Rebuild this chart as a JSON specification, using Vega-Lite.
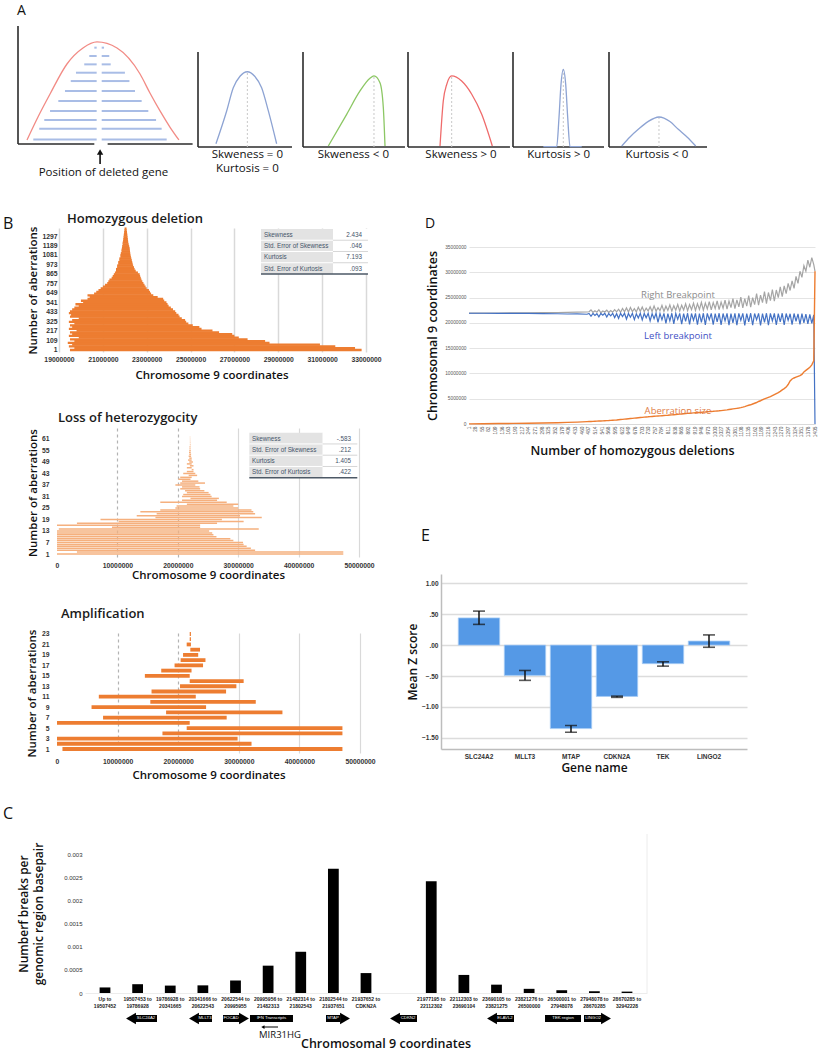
{
"$schema":"https://vega.github.io/schema/vega-lite/v6.json",
"background":"white",
"padding":{"left":3,"top":3,"right":0,"bottom":0},
"bounds":"flush",
"spacing":0,
"config":{"view":{"stroke":null},"font":"Open Sans","text":{"font":"Open Sans"},
"axis":{"ticks":false,"domain":false,"grid":false,"labelOverlap":false,"labelFont":"Liberation Sans","titleFont":"Open Sans","titleFontWeight":600,"titleColor":"#111111","labelColor":"#333333"}},
"vconcat":[
{"hconcat":[
{"width":180,"height":121,
"encoding":{"x":{"field":"x","type":"quantitative","scale":{"domain":[0,100]},"axis":null},"y":{"field":"y","type":"quantitative","scale":{"domain":[0,100]},"axis":null}},
"layer":[
{"data":{"values":[{"x":0,"x2":0,"y":2.5,"y2":100},{"x":0,"x2":42.4,"y":2.5,"y2":2.5},{"x":49.8,"x2":97,"y":2.5,"y2":2.5}]},"mark":{"type":"rule","color":"#2b2b2b","strokeWidth":1.6},"encoding":{"x2":{"field":"x2"},"y2":{"field":"y2"}}},
{"data":{"values":[{"x":42.4,"x2":43.7,"y":82.1},{"x":46.5,"x2":47.8,"y":82.1},{"x":39.6,"x2":43.7,"y":75.2},{"x":46.5,"x2":50.7,"y":75.2},{"x":36.8,"x2":43.7,"y":68.3},{"x":46.5,"x2":51.5,"y":68.3},{"x":32.2,"x2":43.7,"y":61.4},{"x":46.5,"x2":59.4,"y":61.4},{"x":29.3,"x2":43.7,"y":54.5},{"x":46.5,"x2":61.9,"y":54.5},{"x":26.1,"x2":43.7,"y":46.3},{"x":46.5,"x2":65.0,"y":46.3},{"x":22.4,"x2":43.7,"y":38.0},{"x":46.5,"x2":68.7,"y":38.0},{"x":17.8,"x2":43.7,"y":29.8},{"x":46.5,"x2":72.4,"y":29.8},{"x":14.6,"x2":43.7,"y":22.3},{"x":46.5,"x2":76.7,"y":22.3},{"x":11.8,"x2":43.7,"y":15.1},{"x":46.5,"x2":79.8,"y":15.1},{"x":8.5,"x2":43.7,"y":6.3},{"x":46.5,"x2":82.6,"y":6.3}]},"mark":{"type":"rule","color":"#a9bde6","strokeWidth":2},"encoding":{"x2":{"field":"x2"}}},
{"data":{"values":[{"x":5.0,"y":5.8},{"x":11.1,"y":24.8},{"x":17.8,"y":43.8},{"x":27.2,"y":68.6},{"x":36.1,"y":81.8},{"x":43.9,"y":86.8},{"x":55.0,"y":81.8},{"x":67.8,"y":60.3},{"x":73.3,"y":44.6},{"x":78.9,"y":29.8},{"x":84.4,"y":16.5},{"x":89.4,"y":5.8}]},"mark":{"type":"line","interpolate":"monotone","color":"#f28b85","strokeWidth":1.3},"encoding":{}},
{"data":{"values":[{"x":45.6,"y":-5,"y2":-14}]},"mark":{"type":"rule","color":"#111111","strokeWidth":1.6},"encoding":{"y2":{"field":"y2"}}},
{"data":{"values":[{"x":45.6,"y":-4.1}]},"mark":{"type":"point","shape":"triangle-up","filled":true,"color":"#111111","size":40,"opacity":1},"encoding":{}},
{"data":{"values":[{"x":47.5,"y":-21.2,"t":"Position of deleted gene"}]},"mark":{"type":"text","fontSize":11.5,"baseline":"middle","color":"#111111"},"encoding":{"text":{"field":"t"}}},
{"data":{"values":[{"x":-0.56,"y":118.2,"t":"A"}]},"mark":{"type":"text","fontSize":14,"baseline":"top","align":"left","color":"#111111"},"encoding":{"text":{"field":"t"}}}
]},
{"width":105,"height":121,
"encoding":{"x":{"field":"x","type":"quantitative","scale":{"domain":[0,100]},"axis":null},"y":{"field":"y","type":"quantitative","scale":{"domain":[0,100]},"axis":null}},
"layer":[
{"data":{"values":[{"x":0,"x2":0,"y":0,"y2":78.5},{"x":0,"x2":89.5,"y":0,"y2":0}]},"mark":{"type":"rule","color":"#2b2b2b","strokeWidth":1.6},"encoding":{"x2":{"field":"x2"},"y2":{"field":"y2"}}},
{"data":{"values":[{"x":47,"y":0,"y2":62.2}]},"mark":{"type":"rule","color":"#c8c8c8","strokeDash":[2,2],"strokeWidth":1},"encoding":{"y2":{"field":"y2"}}},
{"data":{"values":[{"x":17.1,"y":2.7},{"x":27.3,"y":29.8},{"x":33.6,"y":49},{"x":40,"y":58.5},{"x":47,"y":62.2},{"x":54,"y":58.5},{"x":60.6,"y":49},{"x":67,"y":29.8},{"x":74.9,"y":2.7}]},"mark":{"type":"line","interpolate":"monotone","color":"#8da3d3","strokeWidth":1.3},"encoding":{}},
{"data":{"values":[{"x":47,"y":-6.6,"t":"Skweness = 0"},{"x":47,"y":-18.2,"t":"Kurtosis = 0"}]},"mark":{"type":"text","fontSize":11.5,"baseline":"middle","color":"#111111"},"encoding":{"text":{"field":"t"}}}
]},
{"width":105,"height":121,
"encoding":{"x":{"field":"x","type":"quantitative","scale":{"domain":[0,100]},"axis":null},"y":{"field":"y","type":"quantitative","scale":{"domain":[0,100]},"axis":null}},
"layer":[
{"data":{"values":[{"x":0,"x2":0,"y":0,"y2":78.5},{"x":0,"x2":97.1,"y":0,"y2":0}]},"mark":{"type":"rule","color":"#2b2b2b","strokeWidth":1.6},"encoding":{"x2":{"field":"x2"},"y2":{"field":"y2"}}},
{"data":{"values":[{"x":67.6,"y":0,"y2":58.7}]},"mark":{"type":"rule","color":"#c8c8c8","strokeDash":[2,2],"strokeWidth":1},"encoding":{"y2":{"field":"y2"}}},
{"data":{"values":[{"x":24.1,"y":0.8},{"x":41.6,"y":27},{"x":54.3,"y":46.3},{"x":63.8,"y":56.8},{"x":67.6,"y":58.7},{"x":73.3,"y":53.1},{"x":76.5,"y":32.5},{"x":78.1,"y":0.8}]},"mark":{"type":"line","interpolate":"monotone","color":"#8cc764","strokeWidth":1.3},"encoding":{}},
{"data":{"values":[{"x":47.9,"y":-6.6,"t":"Skweness < 0"}]},"mark":{"type":"text","fontSize":11.5,"baseline":"middle","color":"#111111"},"encoding":{"text":{"field":"t"}}}
]},
{"width":105,"height":121,
"encoding":{"x":{"field":"x","type":"quantitative","scale":{"domain":[0,100]},"axis":null},"y":{"field":"y","type":"quantitative","scale":{"domain":[0,100]},"axis":null}},
"layer":[
{"data":{"values":[{"x":0,"x2":0,"y":0,"y2":78.5},{"x":0,"x2":97.1,"y":0,"y2":0}]},"mark":{"type":"rule","color":"#2b2b2b","strokeWidth":1.6},"encoding":{"x2":{"field":"x2"},"y2":{"field":"y2"}}},
{"data":{"values":[{"x":41.6,"y":0,"y2":58.7}]},"mark":{"type":"rule","color":"#c8c8c8","strokeDash":[2,2],"strokeWidth":1},"encoding":{"y2":{"field":"y2"}}},
{"data":{"values":[{"x":30.5,"y":0.8},{"x":33.6,"y":38},{"x":36.9,"y":51.8},{"x":41.6,"y":58.7},{"x":51.1,"y":54.5},{"x":60.7,"y":43.6},{"x":70.2,"y":27},{"x":80.3,"y":0.8}]},"mark":{"type":"line","interpolate":"monotone","color":"#ef6b6b","strokeWidth":1.3},"encoding":{}},
{"data":{"values":[{"x":50.5,"y":-6.6,"t":"Skweness > 0"}]},"mark":{"type":"text","fontSize":11.5,"baseline":"middle","color":"#111111"},"encoding":{"text":{"field":"t"}}}
]},
{"width":96,"height":121,
"encoding":{"x":{"field":"x","type":"quantitative","scale":{"domain":[0,100]},"axis":null},"y":{"field":"y","type":"quantitative","scale":{"domain":[0,100]},"axis":null}},
"layer":[
{"data":{"values":[{"x":0,"x2":0,"y":0,"y2":78.5},{"x":0,"x2":94.8,"y":0,"y2":0}]},"mark":{"type":"rule","color":"#2b2b2b","strokeWidth":1.6},"encoding":{"x2":{"field":"x2"},"y2":{"field":"y2"}}},
{"data":{"values":[{"x":52.4,"y":0,"y2":64.2}]},"mark":{"type":"rule","color":"#c8c8c8","strokeDash":[2,2],"strokeWidth":1},"encoding":{"y2":{"field":"y2"}}},
{"data":{"values":[{"x":31.6,"y":0.25},{"x":45.5,"y":0.25},{"x":47.9,"y":24.2},{"x":50,"y":51.8},{"x":52.4,"y":64.2},{"x":54.9,"y":51.8},{"x":57,"y":24.2},{"x":59.4,"y":0.25},{"x":71.6,"y":0.25}]},"mark":{"type":"line","interpolate":"monotone","color":"#8da3d3","strokeWidth":1.3},"encoding":{}},
{"data":{"values":[{"x":47.6,"y":-6.6,"t":"Kurtosis > 0"}]},"mark":{"type":"text","fontSize":11.5,"baseline":"middle","color":"#111111"},"encoding":{"text":{"field":"t"}}}
]},
{"width":98,"height":121,
"encoding":{"x":{"field":"x","type":"quantitative","scale":{"domain":[0,100]},"axis":null},"y":{"field":"y","type":"quantitative","scale":{"domain":[0,100]},"axis":null}},
"layer":[
{"data":{"values":[{"x":0,"x2":0,"y":0,"y2":78.5},{"x":0,"x2":100,"y":0,"y2":0}]},"mark":{"type":"rule","color":"#2b2b2b","strokeWidth":1.6},"encoding":{"x2":{"field":"x2"},"y2":{"field":"y2"}}},
{"data":{"values":[{"x":51,"y":0,"y2":24.8}]},"mark":{"type":"rule","color":"#c8c8c8","strokeDash":[2,2],"strokeWidth":1},"encoding":{"y2":{"field":"y2"}}},
{"data":{"values":[{"x":13,"y":0.8},{"x":21.4,"y":8.3},{"x":29.9,"y":14.6},{"x":39.8,"y":21},{"x":51,"y":24.8},{"x":62.2,"y":21},{"x":70.7,"y":14.6},{"x":79.6,"y":8.3},{"x":88.5,"y":0.8}]},"mark":{"type":"line","interpolate":"monotone","color":"#8da3d3","strokeWidth":1.3},"encoding":{}},
{"data":{"values":[{"x":49,"y":-6.6,"t":"Kurtosis < 0"}]},"mark":{"type":"text","fontSize":11.5,"baseline":"middle","color":"#111111"},"encoding":{"text":{"field":"t"}}}
]}
],"spacing":0,"bounds":"flush"},
{"width":1,"height":202,"data":{"values":[{}]},"mark":{"type":"text","text":""},"encoding":{}},
{"hconcat":[
{"width":39,"height":1,"data":{"values":[{}]},"mark":{"type":"text","text":""},"encoding":{}},
{"vconcat":[
{"width":309,"height":124,
"layer":[
{"data":{"values":[{"n":1,"start":19500000,"end":32800000},{"n":21,"start":19700000,"end":32500000},{"n":41,"start":19450000,"end":31600000},{"n":61,"start":19600000,"end":30900000},{"n":81,"start":19400000,"end":28600000},{"n":101,"start":19700000,"end":28400000},{"n":121,"start":19500000,"end":27600000},{"n":141,"start":19900000,"end":27200000},{"n":161,"start":19450000,"end":27000000},{"n":181,"start":19600000,"end":26900000},{"n":201,"start":19500000,"end":26300000},{"n":221,"start":19800000,"end":26000000},{"n":241,"start":19450000,"end":25500000},{"n":261,"start":19600000,"end":25400000},{"n":281,"start":19500000,"end":25100000},{"n":301,"start":19700000,"end":24900000},{"n":321,"start":19450000,"end":24800000},{"n":341,"start":19600000,"end":24750000},{"n":361,"start":19900000,"end":24600000},{"n":381,"start":19500000,"end":24500000},{"n":401,"start":19550000,"end":24450000},{"n":421,"start":19450000,"end":24350000},{"n":441,"start":19500000,"end":24300000},{"n":461,"start":19600000,"end":24200000},{"n":481,"start":19700000,"end":24100000},{"n":501,"start":19900000,"end":24000000},{"n":521,"start":19750000,"end":23950000},{"n":541,"start":20100000,"end":23900000},{"n":561,"start":20000000,"end":23800000},{"n":581,"start":20300000,"end":23750000},{"n":601,"start":20400000,"end":23500000},{"n":621,"start":20300000,"end":23300000},{"n":641,"start":20600000,"end":23200000},{"n":661,"start":20700000,"end":23150000},{"n":681,"start":20800000,"end":23100000},{"n":701,"start":20900000,"end":23000000},{"n":721,"start":21000000,"end":22950000},{"n":741,"start":21100000,"end":22900000},{"n":761,"start":21200000,"end":22850000},{"n":781,"start":21250000,"end":22800000},{"n":801,"start":21300000,"end":22760000},{"n":821,"start":21400000,"end":22730000},{"n":841,"start":21450000,"end":22700000},{"n":861,"start":21500000,"end":22680000},{"n":881,"start":21550000,"end":22600000},{"n":901,"start":21600000,"end":22500000},{"n":921,"start":21600000,"end":22450000},{"n":941,"start":21650000,"end":22420000},{"n":961,"start":21650000,"end":22380000},{"n":981,"start":21700000,"end":22360000},{"n":1001,"start":21700000,"end":22340000},{"n":1021,"start":21750000,"end":22320000},{"n":1041,"start":21750000,"end":22300000},{"n":1061,"start":21800000,"end":22280000},{"n":1081,"start":21800000,"end":22260000},{"n":1101,"start":21820000,"end":22250000},{"n":1121,"start":21850000,"end":22240000},{"n":1141,"start":21850000,"end":22230000},{"n":1161,"start":21870000,"end":22220000},{"n":1181,"start":21880000,"end":22200000},{"n":1201,"start":21900000,"end":22180000},{"n":1221,"start":21900000,"end":22160000},{"n":1241,"start":21920000,"end":22150000},{"n":1261,"start":21930000,"end":22140000},{"n":1281,"start":21940000,"end":22130000},{"n":1301,"start":21950000,"end":22120000},{"n":1321,"start":21960000,"end":22110000},{"n":1341,"start":21970000,"end":22100000},{"n":1361,"start":21980000,"end":22090000},{"n":1381,"start":21990000,"end":22080000}]},"mark":{"type":"rule","color":"#ED7D31","strokeWidth":2.3},
"encoding":{
"y":{"field":"n","type":"quantitative","scale":{"domain":[-22,1388]},"axis":{"values":[1,109,217,325,433,541,649,757,865,973,1081,1189,1297],"tickCount":100,"format":"d","labelOverlap":false,"labelFontSize":6.8,"labelFontWeight":"bold","labelPadding":0,"title":"Number of aberrations","titleFontSize":11.5,"titlePadding":3}},
"x":{"field":"start","type":"quantitative","scale":{"domain":[18909000,33000000]},"axis":{"values":[19000000,21000000,23000000,25000000,27000000,29000000,31000000,33000000],"tickCount":100,"labelFlush":false,"format":"d","labelOverlap":false,"labelFontSize":6.8,"labelFontWeight":"bold","labelPadding":4,"grid":true,"gridColor":"#d9d9d9","gridWidth":1.5,"title":"Chromosome 9 coordinates","titleFontSize":11.5,"titlePadding":7}},
"x2":{"field":"end"}}},
{"data":{"values":[{}]},"mark":{"type":"rect","color":"#e3e3e3"},"encoding":{"x":{"datum":28211000,"scale":{"domain":[18909000,33000000]}},"x2":{"datum":31495000},"y":{"datum":865,"scale":{"domain":[-22,1388]}},"y2":{"datum":1377}}},
{"data":{"values":[{}]},"mark":{"type":"rect","color":"#ffffff"},"encoding":{"x":{"datum":31495000,"scale":{"domain":[18909000,33000000]}},"x2":{"datum":33090000},"y":{"datum":865,"scale":{"domain":[-22,1388]}},"y2":{"datum":1377}}},
{"data":{"values":[{"n":1249},{"n":1121},{"n":993}]},"mark":{"type":"rule","color":"#ffffff","strokeWidth":1},"encoding":{"y":{"field":"n","type":"quantitative","scale":{"domain":[-22,1388]}},"x":{"datum":28211000,"scale":{"domain":[18909000,33000000]}},"x2":{"datum":31495000}}},
{"data":{"values":[{"n":1249},{"n":1121},{"n":993}]},"mark":{"type":"rule","color":"#d6d6d6","strokeWidth":1},"encoding":{"y":{"field":"n","type":"quantitative","scale":{"domain":[-22,1388]}},"x":{"datum":31495000,"scale":{"domain":[18909000,33000000]}},"x2":{"datum":33090000}}},
{"data":{"values":[{}]},"mark":{"type":"rule","color":"#4d5966","strokeWidth":1.5},"encoding":{"x":{"datum":28211000,"scale":{"domain":[18909000,33000000]}},"x2":{"datum":33090000},"y":{"datum":865,"scale":{"domain":[-22,1388]}}}},
{"data":{"values":[{}]},"mark":{"type":"text","align":"left","baseline":"top","fontSize":6.3,"lineHeight":11.25,"font":"Liberation Sans","color":"#44546a"},"encoding":{"x":{"datum":28348000,"scale":{"domain":[18909000,33000000]}},"y":{"datum":1344,"scale":{"domain":[-22,1388]}},"text":{"value":["Skewness","Std. Error of Skewness","Kurtosis","Std. Error of Kurtosis"]}}},
{"data":{"values":[{}]},"mark":{"type":"text","align":"right","baseline":"top","fontSize":6.3,"lineHeight":11.25,"font":"Liberation Sans","color":"#44546a"},"encoding":{"x":{"datum":32817000,"scale":{"domain":[18909000,33000000]}},"y":{"datum":1344,"scale":{"domain":[-22,1388]}},"text":{"value":["2.434",".046","7.193",".093"]}}},
{"data":{"values":[{}]},"mark":{"type":"text","align":"left","baseline":"alphabetic","fontSize":13,"fontWeight":600,"color":"#1a1a1a"},"encoding":{"x":{"datum":19365000,"scale":{"domain":[18909000,33000000]}},"y":{"datum":1450,"scale":{"domain":[-22,1388]}},"text":{"value":"Homozygous deletion"}}},
{"data":{"values":[{}]},"mark":{"type":"text","align":"left","baseline":"alphabetic","fontSize":16,"color":"#111111"},"encoding":{"x":{"datum":16447000,"scale":{"domain":[18909000,33000000]}},"y":{"datum":1377,"scale":{"domain":[-22,1388]}},"text":{"value":"B"}}}
]},
{"width":302,"height":129,
"layer":[
{"data":{"values":[{"n":1,"start":0,"end":47400000},{"n":2,"start":3300000,"end":47400000},{"n":3,"start":0,"end":32800000},{"n":4,"start":0,"end":32100000},{"n":5,"start":0,"end":31400000},{"n":6,"start":0,"end":30900000},{"n":7,"start":0,"end":30800000},{"n":8,"start":0,"end":29200000},{"n":9,"start":0,"end":28700000},{"n":10,"start":0,"end":26400000},{"n":11,"start":0,"end":25900000},{"n":12,"start":0,"end":25700000},{"n":13,"start":0,"end":25200000},{"n":14,"start":300000,"end":33400000},{"n":15,"start":9100000,"end":23700000},{"n":16,"start":0,"end":23700000},{"n":17,"start":3300000,"end":26500000},{"n":18,"start":10200000,"end":30900000},{"n":19,"start":7200000,"end":27300000},{"n":20,"start":16300000,"end":33900000},{"n":21,"start":13200000,"end":30300000},{"n":22,"start":16500000,"end":32800000},{"n":23,"start":13800000,"end":32500000},{"n":24,"start":17100000,"end":32200000},{"n":25,"start":19600000,"end":30000000},{"n":26,"start":19800000,"end":29200000},{"n":27,"start":21500000,"end":30000000},{"n":28,"start":17100000,"end":28100000},{"n":29,"start":20700000,"end":26500000},{"n":30,"start":22100000,"end":26800000},{"n":31,"start":20700000,"end":25600000},{"n":32,"start":20900000,"end":25400000},{"n":33,"start":21500000,"end":25100000},{"n":34,"start":21200000,"end":24400000},{"n":35,"start":20400000,"end":23700000},{"n":36,"start":20700000,"end":23600000},{"n":37,"start":19600000,"end":22900000},{"n":38,"start":20400000,"end":24500000},{"n":39,"start":20700000,"end":23400000},{"n":40,"start":20100000,"end":22100000},{"n":41,"start":20400000,"end":22300000},{"n":42,"start":21800000,"end":23200000},{"n":43,"start":20900000,"end":22900000},{"n":44,"start":21500000,"end":22600000},{"n":45,"start":22300000,"end":22600000},{"n":46,"start":21500000,"end":22300000},{"n":47,"start":22000000,"end":22600000},{"n":48,"start":21500000,"end":22300000},{"n":49,"start":21900000,"end":22500000},{"n":50,"start":21700000,"end":22300000},{"n":51,"start":21900000,"end":22300000},{"n":52,"start":21800000,"end":22200000},{"n":53,"start":21900000,"end":22200000},{"n":54,"start":21850000,"end":22150000},{"n":55,"start":21900000,"end":22150000},{"n":56,"start":21950000,"end":22100000},{"n":57,"start":21950000,"end":22100000},{"n":58,"start":22000000,"end":22100000},{"n":59,"start":22000000,"end":22080000},{"n":60,"start":22000000,"end":22070000},{"n":61,"start":22000000,"end":22060000},{"n":62,"start":22000000,"end":22050000}]},"mark":{"type":"rule","color":"#F5B07E","strokeWidth":1.5},
"encoding":{
"y":{"field":"n","type":"quantitative","scale":{"domain":[-0.565,66.73]},"axis":{"values":[1,7,13,19,25,31,37,43,49,55,61],"tickCount":100,"format":"d","labelOverlap":false,"labelFontSize":6.8,"labelFontWeight":"bold","labelPadding":8,"title":"Number of aberrations","titleFontSize":11.5,"titlePadding":3}},
"x":{"field":"start","type":"quantitative","scale":{"domain":[0,50000000]},"axis":{"values":[0,10000000,20000000,30000000,40000000,50000000],"tickCount":100,"labelFlush":false,"format":"d","labelOverlap":false,"labelFontSize":6.8,"labelFontWeight":"bold","labelPadding":5,"grid":true,"gridColor":{"condition":{"test":"datum.value <= 20000000","value":"#b3b3b3"},"value":"#d9d9d9"},"gridDash":{"condition":{"test":"datum.value <= 20000000","value":[3,3]},"value":[]},"gridOpacity":{"condition":{"test":"datum.value == 0","value":0},"value":1},"gridWidth":1.2,"title":"Chromosome 9 coordinates","titleFontSize":11.5,"titlePadding":1}},
"x2":{"field":"end"}}},
{"data":{"values":[{}]},"mark":{"type":"rect","color":"#e3e3e3"},"encoding":{"x":{"datum":31840000,"scale":{"domain":[0,50000000]}},"x2":{"datum":43990000},"y":{"datum":40.8,"scale":{"domain":[-0.565,66.73]}},"y2":{"datum":64.28}}},
{"data":{"values":[{}]},"mark":{"type":"rect","color":"#ffffff"},"encoding":{"x":{"datum":43990000,"scale":{"domain":[0,50000000]}},"x2":{"datum":49720000},"y":{"datum":40.8,"scale":{"domain":[-0.565,66.73]}},"y2":{"datum":64.28}}},
{"data":{"values":[{"n":58.41},{"n":52.54},{"n":46.67}]},"mark":{"type":"rule","color":"#ffffff","strokeWidth":1},"encoding":{"y":{"field":"n","type":"quantitative","scale":{"domain":[-0.565,66.73]}},"x":{"datum":31840000,"scale":{"domain":[0,50000000]}},"x2":{"datum":43990000}}},
{"data":{"values":[{"n":58.41},{"n":52.54},{"n":46.67}]},"mark":{"type":"rule","color":"#d6d6d6","strokeWidth":1},"encoding":{"y":{"field":"n","type":"quantitative","scale":{"domain":[-0.565,66.73]}},"x":{"datum":43990000,"scale":{"domain":[0,50000000]}},"x2":{"datum":49720000}}},
{"data":{"values":[{}]},"mark":{"type":"rule","color":"#4d5966","strokeWidth":1.5},"encoding":{"x":{"datum":31840000,"scale":{"domain":[0,50000000]}},"x2":{"datum":49720000},"y":{"datum":40.8,"scale":{"domain":[-0.565,66.73]}}}},
{"data":{"values":[{}]},"mark":{"type":"text","align":"left","baseline":"top","fontSize":6.3,"lineHeight":11.25,"font":"Liberation Sans","color":"#44546a"},"encoding":{"x":{"datum":32280000,"scale":{"domain":[0,50000000]}},"y":{"datum":62.77,"scale":{"domain":[-0.565,66.73]}},"text":{"value":["Skewness","Std. Error of Skewness","Kurtosis","Std. Error of Kurtosis"]}}},
{"data":{"values":[{}]},"mark":{"type":"text","align":"right","baseline":"top","fontSize":6.3,"lineHeight":11.25,"font":"Liberation Sans","color":"#44546a"},"encoding":{"x":{"datum":48680000,"scale":{"domain":[0,50000000]}},"y":{"datum":62.77,"scale":{"domain":[-0.565,66.73]}},"text":{"value":["-.583",".212","1.405",".422"]}}},
{"data":{"values":[{}]},"mark":{"type":"text","align":"left","baseline":"alphabetic","fontSize":13,"fontWeight":600,"color":"#1a1a1a"},"encoding":{"x":{"datum":166000,"scale":{"domain":[0,50000000]}},"y":{"datum":70.0,"scale":{"domain":[-0.565,66.73]}},"text":{"value":"Loss of heterozygocity"}}}
]},
{"width":303,"height":120,
"layer":[
{"data":{"values":[{"n":1,"start":900000,"end":47100000},{"n":2,"start":0,"end":32100000},{"n":3,"start":0,"end":29800000},{"n":4,"start":17400000,"end":47100000},{"n":5,"start":21400000,"end":47100000},{"n":6,"start":0,"end":21900000},{"n":7,"start":7600000,"end":28000000},{"n":8,"start":18000000,"end":37200000},{"n":9,"start":5700000,"end":24600000},{"n":10,"start":15400000,"end":32800000},{"n":11,"start":6900000,"end":22900000},{"n":12,"start":15600000,"end":27900000},{"n":13,"start":20300000,"end":29600000},{"n":14,"start":21900000,"end":30800000},{"n":15,"start":14500000,"end":21900000},{"n":16,"start":17200000,"end":22200000},{"n":17,"start":19400000,"end":24100000},{"n":18,"start":20400000,"end":24500000},{"n":19,"start":20800000,"end":23300000},{"n":20,"start":22000000,"end":23600000},{"n":21,"start":21400000,"end":22100000},{"n":22,"start":21900000,"end":22100000},{"n":23,"start":21900000,"end":22100000}]},"mark":{"type":"rule","color":"#ED7D31","strokeWidth":3.8},
"encoding":{
"y":{"field":"n","type":"quantitative","scale":{"domain":[0.235,23.19]},"axis":{"values":[1,3,5,7,9,11,13,15,17,19,21,23],"tickCount":100,"format":"d","labelOverlap":false,"labelFontSize":6.8,"labelFontWeight":"bold","labelPadding":8,"title":"Number of aberrations","titleFontSize":11.5,"titlePadding":4}},
"x":{"field":"start","type":"quantitative","scale":{"domain":[0,50000000]},"axis":{"values":[0,10000000,20000000,30000000,40000000,50000000],"tickCount":100,"labelFlush":false,"format":"d","labelOverlap":false,"labelFontSize":6.8,"labelFontWeight":"bold","labelPadding":5,"grid":true,"gridColor":{"condition":{"test":"datum.value <= 20000000","value":"#b3b3b3"},"value":"#d9d9d9"},"gridDash":{"condition":{"test":"datum.value <= 20000000","value":[3,3]},"value":[]},"gridOpacity":{"condition":{"test":"datum.value == 0","value":0},"value":1},"gridWidth":1.2,"title":"Chromosome 9 coordinates","titleFontSize":11.5,"titlePadding":5}},
"x2":{"field":"end"}}},
{"data":{"values":[{}]},"mark":{"type":"text","align":"left","baseline":"alphabetic","fontSize":13,"fontWeight":600,"color":"#1a1a1a"},"encoding":{"x":{"datum":660000,"scale":{"domain":[0,50000000]}},"y":{"datum":26.12,"scale":{"domain":[0.235,23.19]}},"text":{"value":"Amplification"}}}
]}
],"spacing":76,"bounds":"flush"},
{"width":384,"height":1,"data":{"values":[{}]},"mark":{"type":"text","text":""},"encoding":{}},
{"vconcat":[
{"width":1,"height":19,"data":{"values":[{}]},"mark":{"type":"text","text":""},"encoding":{}},
{"hconcat":[
{"width":28,"height":1,"data":{"values":[{}]},"mark":{"type":"text","text":""},"encoding":{}},
{"width":346,"height":177,
"layer":[
{"data":{"name":"dd","values":[{"i":1,"L":21900000,"R":21920000,"S":30000},{"i":60,"L":21900000,"R":21930000,"S":60000},{"i":120,"L":21890000,"R":21950000,"S":90000},{"i":180,"L":21880000,"R":21970000,"S":120000},{"i":240,"L":21860000,"R":22000000,"S":160000},{"i":300,"L":21820000,"R":22020000,"S":200000},{"i":360,"L":21800000,"R":22050000,"S":260000},{"i":400,"L":21750000,"R":22080000,"S":320000},{"i":440,"L":21780000,"R":22120000,"S":380000},{"i":480,"L":21700000,"R":22150000,"S":460000},
{"i":488,"L":21850000,"R":22200000,"S":480000},{"i":496,"L":21300000,"R":22550000,"S":500000},{"i":504,"L":21880000,"R":22050000,"S":520000},{"i":512,"L":21450000,"R":22400000,"S":540000},{"i":520,"L":21800000,"R":22100000,"S":560000},{"i":528,"L":21200000,"R":22600000,"S":580000},{"i":536,"L":21860000,"R":22000000,"S":600000},{"i":544,"L":21500000,"R":22350000,"S":620000},{"i":552,"L":21900000,"R":22150000,"S":640000},{"i":560,"L":21150000,"R":22500000,"S":660000},{"i":568,"L":21840000,"R":22050000,"S":680000},{"i":576,"L":21400000,"R":22450000,"S":710000},{"i":584,"L":21880000,"R":22120000,"S":740000},{"i":592,"L":21050000,"R":22620000,"S":770000},{"i":600,"L":21820000,"R":22180000,"S":800000},{"i":608,"L":20900000,"R":22700000,"S":840000},{"i":616,"L":21870000,"R":22100000,"S":880000},{"i":624,"L":21250000,"R":22850000,"S":920000},{"i":632,"L":21900000,"R":22200000,"S":960000},{"i":640,"L":20750000,"R":22950000,"S":1000000},{"i":648,"L":21850000,"R":22150000,"S":1040000},{"i":656,"L":21100000,"R":23050000,"S":1080000},{"i":664,"L":21880000,"R":22250000,"S":1120000},{"i":672,"L":20650000,"R":22800000,"S":1160000},{"i":680,"L":21800000,"R":22150000,"S":1200000},{"i":688,"L":20950000,"R":23100000,"S":1240000},{"i":696,"L":21900000,"R":22300000,"S":1280000},{"i":704,"L":20600000,"R":23150000,"S":1310000},{"i":712,"L":21860000,"R":22200000,"S":1350000},{"i":720,"L":21000000,"R":22900000,"S":1390000},{"i":728,"L":21880000,"R":22350000,"S":1420000},{"i":736,"L":20400000,"R":23200000,"S":1460000},{"i":744,"L":21830000,"R":22250000,"S":1490000},{"i":752,"L":20800000,"R":23350000,"S":1520000},{"i":760,"L":21900000,"R":22300000,"S":1550000},{"i":768,"L":20100000,"R":23000000,"S":1580000},{"i":776,"L":21850000,"R":22400000,"S":1610000},{"i":784,"L":20600000,"R":23450000,"S":1640000},{"i":792,"L":21890000,"R":22250000,"S":1670000},{"i":800,"L":19900000,"R":23300000,"S":1700000},{"i":808,"L":21820000,"R":22450000,"S":1730000},{"i":816,"L":20400000,"R":23550000,"S":1770000},{"i":824,"L":21900000,"R":22300000,"S":1800000},{"i":832,"L":19800000,"R":23400000,"S":1840000},{"i":840,"L":21860000,"R":22500000,"S":1870000},{"i":848,"L":20700000,"R":23650000,"S":1910000},{"i":856,"L":21880000,"R":22350000,"S":1950000},{"i":864,"L":19750000,"R":23500000,"S":1990000},{"i":872,"L":21840000,"R":22550000,"S":2030000},{"i":880,"L":20300000,"R":23750000,"S":2070000},{"i":888,"L":21900000,"R":22400000,"S":2100000},{"i":896,"L":19700000,"R":23600000,"S":2130000},{"i":904,"L":21850000,"R":22600000,"S":2160000},{"i":912,"L":20500000,"R":23900000,"S":2190000},{"i":920,"L":21890000,"R":22450000,"S":2220000},{"i":928,"L":19650000,"R":23800000,"S":2250000},{"i":936,"L":21830000,"R":22650000,"S":2280000},{"i":944,"L":20100000,"R":24050000,"S":2310000},{"i":952,"L":21900000,"R":22500000,"S":2350000},{"i":960,"L":19600000,"R":23900000,"S":2380000},{"i":968,"L":21860000,"R":22750000,"S":2420000},{"i":976,"L":20600000,"R":24200000,"S":2450000},{"i":984,"L":21880000,"R":22550000,"S":2480000},{"i":992,"L":19650000,"R":24000000,"S":2510000},{"i":1000,"L":21840000,"R":22800000,"S":2550000},{"i":1008,"L":20200000,"R":24350000,"S":2580000},{"i":1016,"L":21900000,"R":22600000,"S":2610000},{"i":1024,"L":19600000,"R":24100000,"S":2650000},{"i":1032,"L":21850000,"R":22900000,"S":2700000},{"i":1040,"L":20400000,"R":24500000,"S":2750000},{"i":1048,"L":21890000,"R":22700000,"S":2800000},{"i":1056,"L":19550000,"R":24300000,"S":2860000},{"i":1064,"L":21830000,"R":23000000,"S":2920000},{"i":1072,"L":20000000,"R":24800000,"S":2980000},{"i":1080,"L":21900000,"R":22800000,"S":3040000},{"i":1088,"L":19550000,"R":24550000,"S":3100000},{"i":1096,"L":21860000,"R":23150000,"S":3160000},{"i":1104,"L":20500000,"R":25100000,"S":3240000},{"i":1112,"L":21880000,"R":22950000,"S":3340000},{"i":1120,"L":19500000,"R":24800000,"S":3450000},{"i":1128,"L":21840000,"R":23300000,"S":3580000},{"i":1136,"L":20200000,"R":25400000,"S":3700000},{"i":1144,"L":21900000,"R":23100000,"S":3800000},{"i":1152,"L":19550000,"R":25000000,"S":3950000},{"i":1160,"L":21850000,"R":23600000,"S":4100000},{"i":1168,"L":20600000,"R":25800000,"S":4250000},{"i":1176,"L":21890000,"R":23500000,"S":4450000},{"i":1184,"L":19500000,"R":25500000,"S":4600000},{"i":1192,"L":21830000,"R":24000000,"S":4800000},{"i":1200,"L":20100000,"R":26200000,"S":4950000},{"i":1208,"L":21900000,"R":23800000,"S":5100000},{"i":1216,"L":19550000,"R":26000000,"S":5250000},{"i":1224,"L":21860000,"R":24400000,"S":5400000},{"i":1232,"L":20400000,"R":26600000,"S":5600000},{"i":1240,"L":21880000,"R":24300000,"S":5800000},{"i":1248,"L":19600000,"R":26500000,"S":6000000},{"i":1256,"L":21840000,"R":25000000,"S":6200000},{"i":1264,"L":20200000,"R":27100000,"S":6450000},{"i":1272,"L":21900000,"R":25200000,"S":6750000},{"i":1280,"L":19600000,"R":27300000,"S":7000000},{"i":1288,"L":21850000,"R":25800000,"S":7300000},{"i":1296,"L":20500000,"R":27800000,"S":7800000},{"i":1304,"L":21800000,"R":26400000,"S":8500000},{"i":1312,"L":19650000,"R":28300000,"S":8900000},{"i":1320,"L":21850000,"R":26800000,"S":9100000},{"i":1328,"L":20300000,"R":29200000,"S":9250000},{"i":1336,"L":21780000,"R":27800000,"S":9400000},{"i":1344,"L":19700000,"R":30200000,"S":9550000},{"i":1352,"L":21820000,"R":29000000,"S":9800000},{"i":1360,"L":20000000,"R":31300000,"S":10300000},{"i":1368,"L":21750000,"R":30200000,"S":10600000},{"i":1376,"L":19800000,"R":32400000,"S":10900000},{"i":1384,"L":21700000,"R":31000000,"S":11200000},{"i":1392,"L":19900000,"R":32900000,"S":11700000},{"i":1400,"L":21600000,"R":31500000,"S":12500000},{"i":1405,"L":0,"R":30200000,"S":30200000}]},
"mark":{"type":"line","color":"#A5A5A5","strokeWidth":1.2},
"encoding":{"x":{"field":"i","type":"quantitative","scale":{"domain":[1,1405]},"axis":{"values":[1,28,55,82,109,136,163,190,217,244,271,298,325,352,379,406,433,460,487,514,541,568,595,622,649,676,703,730,757,784,811,838,865,892,919,946,973,1000,1027,1054,1081,1108,1135,1162,1189,1216,1243,1270,1297,1324,1351,1378,1405],"tickCount":100,"labelFlush":false,"format":"d","labelOverlap":false,"labelAngle":270,"labelFontSize":4.8,"labelColor":"#595959","labelPadding":2,"domain":true,"domainColor":"#d9d9d9","title":"Number of homozygous deletions","titleFontSize":12.5,"titlePadding":8,"titleX":163}},
"y":{"field":"R","type":"quantitative","scale":{"domain":[0,35000000]},"axis":{"values":[0,5000000,10000000,15000000,20000000,25000000,30000000,35000000],"tickCount":100,"format":"d","labelOverlap":false,"labelFontSize":4.8,"labelColor":"#595959","labelPadding":3,"grid":true,"gridColor":"#e4e4e4","title":"Chromosomal 9 coordinates","titleFontSize":12.5,"titlePadding":5}}}},
{"data":{"name":"dd"},"mark":{"type":"line","color":"#4472C4","strokeWidth":1.2},"encoding":{"x":{"field":"i","type":"quantitative","scale":{"domain":[1,1405]},"title":"Number of homozygous deletions"},"y":{"field":"L","type":"quantitative","scale":{"domain":[0,35000000]},"title":"Chromosomal 9 coordinates"}}},
{"data":{"name":"dd"},"mark":{"type":"line","color":"#ED7D31","strokeWidth":1.4},"encoding":{"x":{"field":"i","type":"quantitative","scale":{"domain":[1,1405]},"title":"Number of homozygous deletions"},"y":{"field":"S","type":"quantitative","scale":{"domain":[0,35000000]},"title":"Chromosomal 9 coordinates"}}},
{"data":{"values":[{}]},"mark":{"type":"text","fontSize":9.5,"color":"#8c8c8c","baseline":"middle"},"encoding":{"x":{"datum":849,"scale":{"domain":[1,1405]}},"y":{"datum":25500000,"scale":{"domain":[0,35000000]}},"text":{"value":"Right Breakpoint"}}},
{"data":{"values":[{}]},"mark":{"type":"text","fontSize":9.5,"color":"#3f4fc4","baseline":"middle"},"encoding":{"x":{"datum":849,"scale":{"domain":[1,1405]}},"y":{"datum":17400000,"scale":{"domain":[0,35000000]}},"text":{"value":"Left breakpoint"}}},
{"data":{"values":[{}]},"mark":{"type":"text","fontSize":9.5,"color":"#e07b45","baseline":"middle"},"encoding":{"x":{"datum":849,"scale":{"domain":[1,1405]}},"y":{"datum":2500000,"scale":{"domain":[0,35000000]}},"text":{"value":"Aberration size"}}},
{"data":{"values":[{}]},"mark":{"type":"text","fontSize":14,"color":"#111111","align":"left","baseline":"alphabetic"},"encoding":{"x":{"datum":-177.6,"scale":{"domain":[1,1405]}},"y":{"datum":38760000,"scale":{"domain":[0,35000000]}},"text":{"value":"D"}}}
]}
],"spacing":0,"bounds":"flush"},
{"width":1,"height":327,"data":{"values":[{}]},"mark":{"type":"text","text":""},"encoding":{}},
{"width":306,"height":175,
"title":{"text":"E","anchor":"start","frame":"group","dx":-20,"offset":17,"baseline":"alphabetic","fontSize":16,"fontWeight":"normal","font":"Open Sans","color":"#111111"},
"data":{"values":[{"gene":"SLC24A2","mean":0.44,"lo":0.335,"hi":0.55},{"gene":"MLLT3","mean":-0.49,"lo":-0.57,"hi":-0.41},{"gene":"MTAP","mean":-1.35,"lo":-1.41,"hi":-1.3},{"gene":"CDKN2A","mean":-0.83,"lo":-0.845,"hi":-0.825},{"gene":"TEK","mean":-0.3,"lo":-0.34,"hi":-0.27},{"gene":"LINGO2","mean":0.065,"lo":-0.035,"hi":0.165}]},
"encoding":{"x":{"field":"gene","type":"nominal","sort":null,"scale":{"paddingInner":0.1,"paddingOuter":0.376},"axis":{"labelAngle":0,"labelOverlap":false,"labelFontSize":6.5,"labelFontWeight":"bold","domain":true,"domainColor":"#bdbdbd","domainWidth":1.5,"labelPadding":4,"title":"Gene name","titleFontSize":12,"titlePadding":3}}},
"layer":[
{"mark":{"type":"bar","color":"#5599E6","stroke":"#a8cdf5","strokeWidth":0.8},"encoding":{"y":{"field":"mean","type":"quantitative","scale":{"domain":[-1.68,1.15]},"title":"Mean Z score","axis":{"values":[-1.5,-1,-0.5,0,0.5,1],"tickCount":100,"labelExpr":"replace(format(datum.value,'.2f'),'0.','.')","labelOverlap":false,"labelFontSize":6.5,"labelFontWeight":"bold","grid":true,"gridColor":"#dcdcdc","gridWidth":1.5,"domain":true,"domainColor":"#bdbdbd","domainWidth":1.5,"labelPadding":3,"title":"Mean Z score","titleFontSize":12,"titlePadding":2}}}},
{"mark":{"type":"rule","color":"#111111","strokeWidth":1.5},"encoding":{"y":{"field":"lo","type":"quantitative","scale":{"domain":[-1.68,1.15]},"title":"Mean Z score"},"y2":{"field":"hi"}}},
{"mark":{"type":"tick","color":"#111111","thickness":1.6,"size":12},"encoding":{"y":{"field":"lo","type":"quantitative","scale":{"domain":[-1.68,1.15]},"title":"Mean Z score"}}},
{"mark":{"type":"tick","color":"#111111","thickness":1.6,"size":12},"encoding":{"y":{"field":"hi","type":"quantitative","scale":{"domain":[-1.68,1.15]},"title":"Mean Z score"}}}
]}
],"spacing":0,"bounds":"flush"}
],"spacing":0,"bounds":"flush"},
{"width":1,"height":606,"data":{"values":[{}]},"mark":{"type":"text","text":""},"encoding":{}},
{"hconcat":[
{"width":67,"height":1,"data":{"values":[{}]},"mark":{"type":"text","text":""},"encoding":{}},
{"width":562,"height":159,
"resolve":{"scale":{"x":"independent"},"axis":{"x":"independent"}},
"layer":[
{"data":{"values":[{"range":"Up to|19507452","rate":0.00012},{"range":"19507453 to|19786928","rate":0.00019},{"range":"19786928 to|20341665","rate":0.00016},{"range":"20341666 to|20622543","rate":0.000165},{"range":"20622544 to|20995955","rate":0.00027},{"range":"20995956 to|21482313","rate":0.00059},{"range":"21482314 to|21802543","rate":0.00089},{"range":"21802544 to|21937651","rate":0.00268},{"range":"21937652 to|CDKN2A","rate":0.00043},{"range":"21977195 to|22112302","rate":0.00241},{"range":"22112303 to|23690104","rate":0.00039},{"range":"23690105 to|23821275","rate":0.00018},{"range":"23821276 to|26500000","rate":0.00009},{"range":"26500001 to|27948078","rate":0.00006},{"range":"27948078 to|28670285","rate":0.00004},{"range":"28670285 to|32942228","rate":0.00003}]},
"mark":{"type":"bar","color":"#000000"},
"encoding":{
"x":{"field":"range","type":"nominal","sort":null,"scale":{"domain":["Up to|19507452","19507453 to|19786928","19786928 to|20341665","20341666 to|20622543","20622544 to|20995955","20995956 to|21482313","21482314 to|21802543","21802544 to|21937651","21937652 to|CDKN2A","gap","21977195 to|22112302","22112303 to|23690104","23690105 to|23821275","23821276 to|26500000","26500001 to|27948078","27948078 to|28670285","28670285 to|32942228"],"paddingInner":0.67,"paddingOuter":0.448},"axis":{"labelExpr":"datum.value == 'gap' ? '' : split(datum.value, '|')","labelOverlap":false,"labelAngle":0,"labelFontSize":5,"labelFontWeight":"bold","labelLineHeight":7,"labelPadding":3,"labelColor":"#222222","domain":true,"domainColor":"#ececec","title":null}},
"y":{"field":"rate","type":"quantitative","scale":{"domain":[0,0.003432]},"axis":{"values":[0,0.0005,0.001,0.0015,0.002,0.0025,0.003],"tickCount":100,"format":"~g","labelOverlap":false,"labelFontSize":6,"labelPadding":3,"title":["Numberf breaks per","genomic region basepair"],"titleFontSize":12,"titleLineHeight":15,"titlePadding":18}}}},
{"layer":[
{"data":{"values":[{"g":"SLC24A2","from":1.92,"to":2.594,"mid":2.257,"head":1.797,"dir":"left"},{"g":"MLLT3","from":3.851,"to":4.28,"mid":4.065,"head":3.728,"dir":"left"},{"g":"FOCAD","from":4.617,"to":5.138,"mid":4.862,"head":5.26,"dir":"right"},{"g":"IFN Transcripts","from":5.444,"to":6.762,"mid":6.103},{"g":"MTAP","from":7.774,"to":8.203,"mid":7.988,"head":8.356,"dir":"right"},{"g":"CDKN2","from":10.012,"to":10.563,"mid":10.287,"head":9.889,"dir":"left"},{"g":"ELAVL2","from":12.985,"to":13.537,"mid":13.261,"head":12.862,"dir":"left"},{"g":"TEK region","from":14.487,"to":15.59,"mid":15.039},{"g":"LINGO2","from":15.682,"to":16.234,"mid":15.958,"head":16.356,"dir":"right"}]},
"layer":[
{"mark":{"type":"rect","color":"#000000"},"encoding":{"x":{"field":"from","type":"quantitative","scale":{"domain":[0.387,17.613]},"axis":null},"x2":{"field":"to"},"y":{"datum":-0.000475,"scale":{"domain":[0,0.003432]}},"y2":{"datum":-0.000626}}},
{"transform":[{"filter":"isValid(datum.head)"}],"mark":{"type":"point","filled":true,"color":"#000000","opacity":1,"size":130},"encoding":{"x":{"field":"head","type":"quantitative","scale":{"domain":[0.387,17.613]},"axis":null},"y":{"datum":-0.00055,"scale":{"domain":[0,0.003432]}},"shape":{"field":"dir","type":"nominal","scale":{"domain":["left","right"],"range":["triangle-left","triangle-right"]},"legend":null}}},
{"mark":{"type":"text","color":"#ffffff","fontSize":4.3,"font":"Liberation Sans","baseline":"middle"},"encoding":{"x":{"field":"mid","type":"quantitative","scale":{"domain":[0.387,17.613]},"axis":null},"y":{"datum":-0.00055,"scale":{"domain":[0,0.003432]}},"text":{"field":"g"}}}
]},
{"data":{"values":[{}]},"mark":{"type":"rule","color":"#000000","strokeWidth":1},"encoding":{"x":{"datum":5.85,"scale":{"domain":[0.387,17.613]},"axis":null},"x2":{"datum":6.303},"y":{"datum":-0.000734,"scale":{"domain":[0,0.003432]}}}},
{"data":{"values":[{}]},"mark":{"type":"point","shape":"triangle-left","filled":true,"color":"#000000","size":14,"opacity":1},"encoding":{"x":{"datum":5.84,"scale":{"domain":[0.387,17.613]},"axis":null},"y":{"datum":-0.000734,"scale":{"domain":[0,0.003432]}}}},
{"data":{"values":[{}]},"mark":{"type":"text","fontSize":9.5,"color":"#111111","baseline":"middle"},"encoding":{"x":{"datum":6.364,"scale":{"domain":[0.387,17.613]},"axis":null},"y":{"datum":-0.000906,"scale":{"domain":[0,0.003432]}},"text":{"value":"MIR31HG"}}},
{"data":{"values":[{}]},"mark":{"type":"text","fontSize":12.5,"fontWeight":600,"color":"#111111","baseline":"middle"},"encoding":{"x":{"datum":9.613,"scale":{"domain":[0.387,17.613]},"axis":null},"y":{"datum":-0.0011,"scale":{"domain":[0,0.003432]}},"text":{"value":"Chromosomal 9 coordinates"}}},
{"data":{"values":[{}]},"mark":{"type":"text","fontSize":16,"align":"left","baseline":"alphabetic","color":"#111111"},"encoding":{"x":{"datum":-2.126,"scale":{"domain":[0.387,17.613]},"axis":null},"y":{"datum":0.00375,"scale":{"domain":[0,0.003432]}},"text":{"value":"C"}}},
{"data":{"values":[{}]},"mark":{"type":"rule","color":"#ececec","strokeWidth":1},"encoding":{"x":{"datum":17.613,"scale":{"domain":[0.387,17.613]},"axis":null},"y":{"datum":0,"scale":{"domain":[0,0.003432]}},"y2":{"datum":0.003432}}}
]}
]}
],"spacing":0,"bounds":"flush"}
]
}
